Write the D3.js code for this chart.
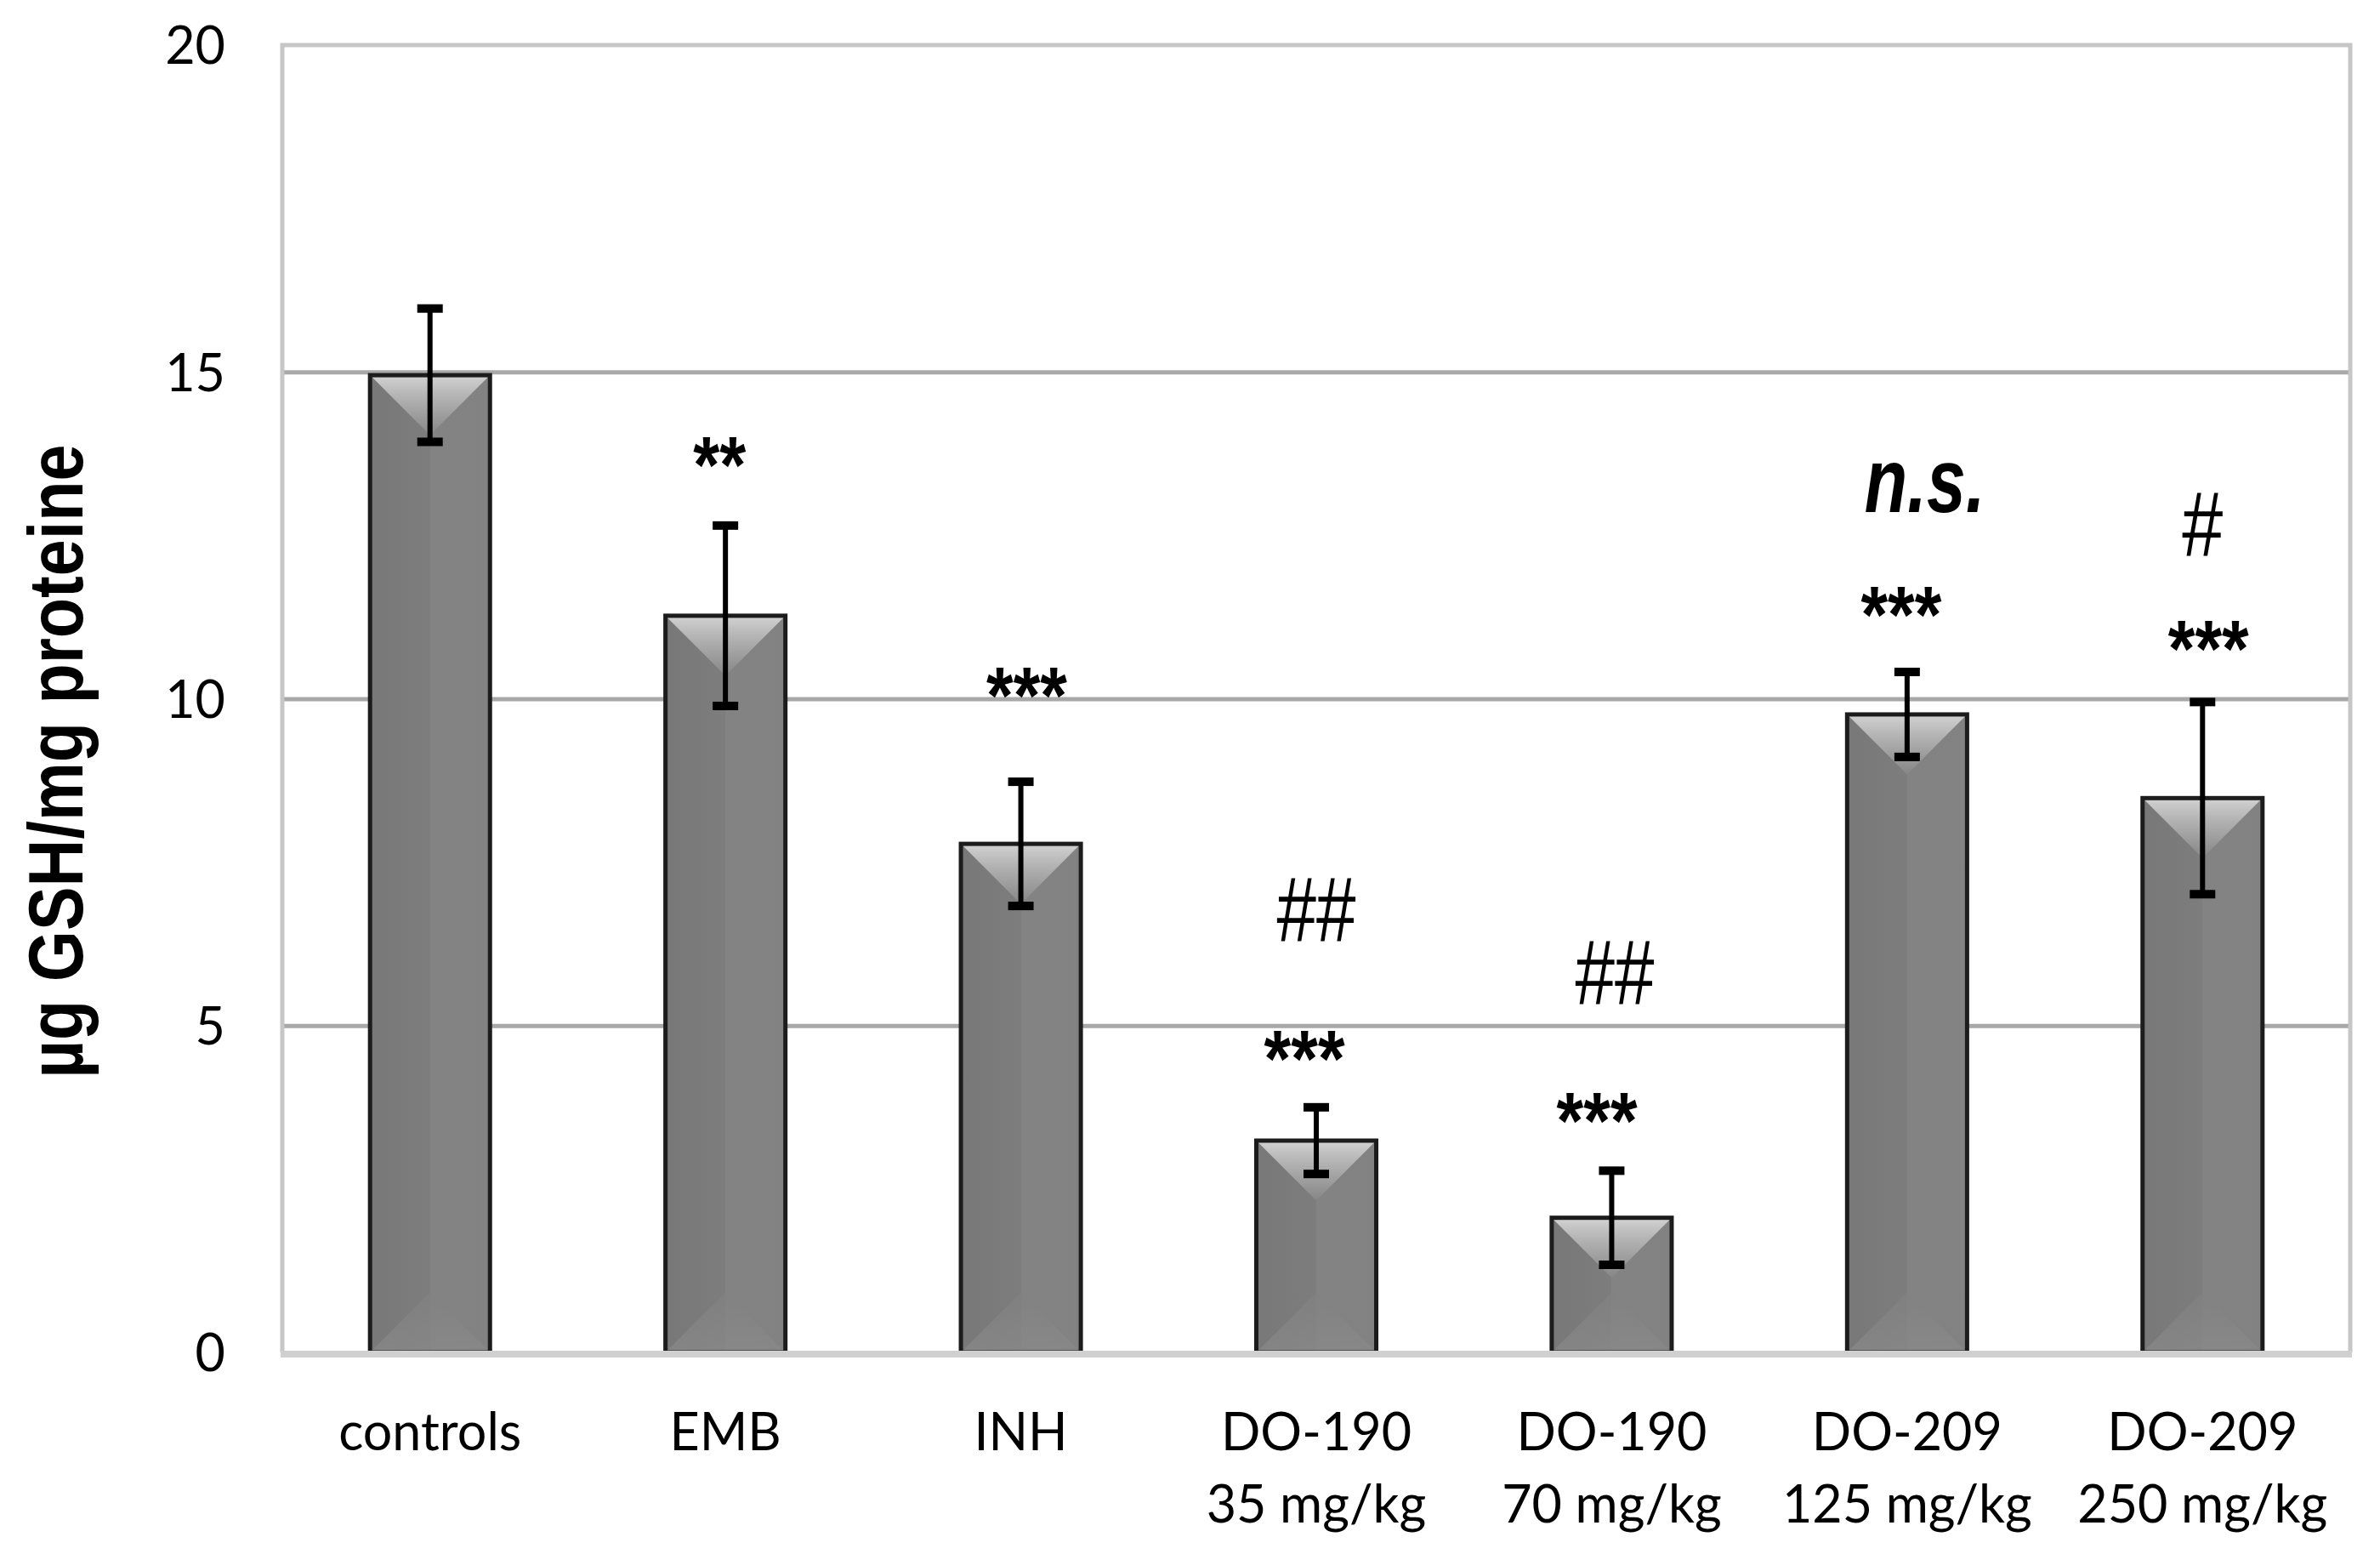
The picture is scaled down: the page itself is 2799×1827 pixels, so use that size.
<!DOCTYPE html>
<html>
<head>
<meta charset="utf-8">
<script src="https://cdn.jsdelivr.net/npm/d3@7"></script>
<style>
  html, body { margin: 0; padding: 0; background: #ffffff; }
  svg { display: block; }
</style>
</head>
<body>
<svg id="chart" width="2799" height="1827"></svg>
<script>
// ---------- data ----------
const categories = ["controls", "EMB", "INH", "DO-190 35", "DO-190 70", "DO-209 125", "DO-209 250"];
const labelLine1 = ["controls", "EMB", "INH", "DO-190", "DO-190", "DO-209", "DO-209"];
const labelLine2 = ["", "", "", "35 mg/kg", "70 mg/kg", "125 mg/kg", "250 mg/kg"];
const values = [14.95, 11.27, 7.78, 3.24, 2.06, 9.76, 8.48];
const errors = [1.02, 1.38, 0.95, 0.51, 0.72, 0.65, 1.47];
const yTicks = [0, 5, 10, 15, 20];
const gridTicks = [5, 10, 15];
const yTitle = "\u00B5g GSH/mg proteine";

// significance annotations: category, text, level (value units of baseline)
const annCategory = ["EMB", "INH", "DO-190 35", "DO-190 35", "DO-190 70", "DO-190 70", "DO-209 125", "DO-209 125", "DO-209 250", "DO-209 250"];
const annText     = ["**", "***", "***", "##", "***", "##", "***", "n.s.", "***", "#"];
const annLevel    = [13.16, 9.63, 4.07, 6.30, 3.12, 5.34, 10.86, 12.86, 10.34, 12.19];
const annShift    = [-0.02, 0.02, -0.04, 0.0, -0.05, 0.01, -0.02, 0.06, 0.02, 0.0];

// ---------- layout ----------
const plot = { left: 332, right: 2764, top: 53, bottom: 1590 };
const svg = d3.select("#chart");

const x = d3.scaleBand()
  .domain(categories)
  .range([plot.left, plot.right])
  .paddingInner(0.594)
  .paddingOuter(0.297);

const y = d3.scaleLinear().domain([0, 20]).range([plot.bottom, plot.top]);

// ---------- defs ----------
const defs = svg.append("defs");
const bodyGrad = defs.append("linearGradient").attr("id", "barBody")
  .attr("x1", "0").attr("x2", "1").attr("y1", "0").attr("y2", "0");
[["0%", "#787878"], ["50%", "#7d7d7d"], ["50%", "#838383"], ["100%", "#828282"]]
  .forEach(([o, c]) => bodyGrad.append("stop").attr("offset", o).attr("stop-color", c));

const bevelGrad = defs.append("linearGradient").attr("id", "bevelTop")
  .attr("x1", "0").attr("x2", "0").attr("y1", "0").attr("y2", "1");
[["0%", "#d2d2d2"], ["35%", "#b4b4b4"], ["100%", "#868686"]]
  .forEach(([o, c]) => bevelGrad.append("stop").attr("offset", o).attr("stop-color", c));

const bevelBot = defs.append("linearGradient").attr("id", "bevelBot")
  .attr("x1", "0").attr("x2", "0").attr("y1", "1").attr("y2", "0");
[["0%", "#8a8a8a"], ["100%", "#818181"]]
  .forEach(([o, c]) => bevelBot.append("stop").attr("offset", o).attr("stop-color", c));

// ---------- gridlines ----------
const grid = svg.append("g")
  .attr("transform", `translate(${plot.left},0)`)
  .call(d3.axisLeft(y).tickValues(gridTicks).tickSize(-(plot.right - plot.left)).tickFormat(""));
grid.select(".domain").remove();
grid.selectAll("line").attr("stroke", "#a8a8a8").attr("stroke-width", 5);

// plot border (top, left, right)
svg.append("path")
  .attr("d", `M${plot.left},${plot.bottom} L${plot.left},${plot.top} L${plot.right},${plot.top} L${plot.right},${plot.bottom}`)
  .attr("fill", "none").attr("stroke", "#c6c6c6").attr("stroke-width", 5);

// ---------- bars ----------
const bw = x.bandwidth();
const bars = svg.append("g").selectAll("g.bar").data(categories).join("g").attr("class", "bar");

bars.append("rect")
  .attr("x", d => x(d))
  .attr("y", (d, i) => y(values[i]))
  .attr("width", bw)
  .attr("height", (d, i) => y(0) - y(values[i]))
  .attr("fill", "url(#barBody)");

bars.append("path")
  .attr("d", (d, i) => {
    const x0 = x(d), x1 = x(d) + bw, yt = y(values[i]);
    const depth = Math.min(bw / 2, (y(0) - yt) / 2);
    return `M${x0},${yt} L${x1},${yt} L${x0 + bw / 2},${yt + depth} Z`;
  })
  .attr("fill", "url(#bevelTop)");

bars.append("path")
  .attr("d", (d, i) => {
    const x0 = x(d), x1 = x(d) + bw, yb = y(0), yt = y(values[i]);
    const depth = Math.min(bw / 2, (yb - yt) / 2);
    return `M${x0},${yb} L${x1},${yb} L${x0 + bw / 2},${yb - depth} Z`;
  })
  .attr("fill", "url(#bevelBot)").attr("opacity", 0.7);

bars.append("rect")
  .attr("x", d => x(d))
  .attr("y", (d, i) => y(values[i]))
  .attr("width", bw)
  .attr("height", (d, i) => y(0) - y(values[i]))
  .attr("fill", "none")
  .attr("stroke", "#1c1c1c")
  .attr("stroke-width", 5);

// bottom axis line (value 0)
svg.append("line")
  .attr("x1", plot.left - 2).attr("x2", plot.right + 2)
  .attr("y1", y(0) + 2).attr("y2", y(0) + 2)
  .attr("stroke", "#d0d0d0").attr("stroke-width", 8);

// ---------- error bars ----------
const eb = svg.append("g").selectAll("g.err").data(categories).join("g").attr("class", "err");
const cx = d => x(d) + bw / 2;
eb.append("line")
  .attr("x1", cx).attr("x2", cx)
  .attr("y1", (d, i) => y(values[i] + errors[i]))
  .attr("y2", (d, i) => y(values[i] - errors[i]))
  .attr("stroke", "#000").attr("stroke-width", 6);
[1, -1].forEach(s => {
  eb.append("line")
    .attr("x1", d => cx(d) - 15).attr("x2", d => cx(d) + 15)
    .attr("y1", (d, i) => y(values[i] + s * errors[i]))
    .attr("y2", (d, i) => y(values[i] + s * errors[i]))
    .attr("stroke", "#000").attr("stroke-width", 10);
});

// ---------- y axis ticks ----------
const yAxis = svg.append("g")
  .attr("transform", `translate(${plot.left},0)`)
  .call(d3.axisLeft(y).tickValues(yTicks).tickSize(0).tickPadding(67).tickFormat(d3.format("d")));
yAxis.select(".domain").remove();
yAxis.selectAll("text")
  .attr("font-family", "Lato, 'Open Sans', sans-serif")
  .attr("font-size", 61)
  .attr("fill", "#000")
  .attr("dy", "0.36em");

// ---------- category labels ----------
const xl = svg.append("g").selectAll("text").data(categories).join("text")
  .attr("x", cx)
  .attr("y", 1705)
  .attr("text-anchor", "middle")
  .attr("font-family", "Lato, 'Open Sans', sans-serif")
  .attr("font-size", 61)
  .attr("fill", "#000");
xl.append("tspan").attr("x", cx).attr("y", 1705).text((d, i) => labelLine1[i]);
xl.append("tspan").attr("x", cx).attr("y", 1790).text((d, i) => labelLine2[i]);

// ---------- y title ----------
svg.append("text")
  .attr("transform", `translate(97,895) rotate(-90)`)
  .attr("text-anchor", "middle")
  .attr("font-family", "'Liberation Sans', Arial, sans-serif")
  .attr("font-weight", "bold")
  .attr("font-size", 91)
  .attr("textLength", 745)
  .attr("lengthAdjust", "spacingAndGlyphs")
  .attr("fill", "#000")
  .text(yTitle);

// ---------- annotations ----------
const annStyle = {
  "***": { size: 94, weight: "bold", style: "normal", len: 95 },
  "**":  { size: 94, weight: "bold", style: "normal", len: 62 },
  "##":  { size: 107, weight: "normal", style: "normal", len: 93 },
  "#":   { size: 107, weight: "normal", style: "normal", len: 48 },
  "n.s.":{ size: 107, weight: "bold", style: "italic", len: 142 }
};
svg.append("g").selectAll("text").data(annText).join("text")
  .attr("x", (d, i) => cx(annCategory[i]) + annShift[i] * x.step())
  .attr("y", (d, i) => y(annLevel[i]))
  .attr("text-anchor", "middle")
  .attr("font-family", "'Liberation Sans', Arial, sans-serif")
  .attr("font-size", d => annStyle[d].size)
  .attr("font-weight", d => annStyle[d].weight)
  .attr("font-style", d => annStyle[d].style)
  .attr("textLength", d => annStyle[d].len)
  .attr("lengthAdjust", "spacingAndGlyphs")
  .attr("fill", "#000")
  .text(d => d);
</script>
</body>
</html>
